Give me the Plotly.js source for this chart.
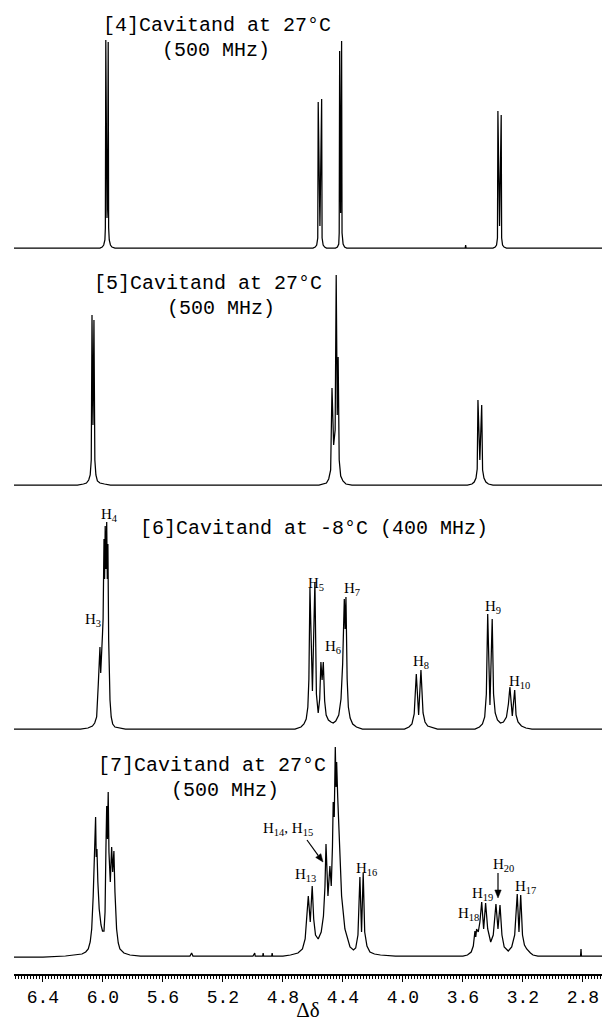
<!DOCTYPE html>
<html>
<head>
<meta charset="utf-8">
<script src="https://cdn.plot.ly/plotly-3.0.1.min.js"></script>
<style>
html,body{margin:0;padding:0;background:#ffffff;}
#chart{width:602px;height:1022px;}
</style>
</head>
<body>
<div id="chart"></div>
<script>
// ---------------- DATA (chemical shift δ in ppm, intensity in arbitrary units) ----------------
// [4] Cavitand, 27 °C, 500 MHz
const spectrum4 = [
  [6.593,0],[6.02,0],[6.005,1],[5.995,3],[5.987,8],[5.984,20],[5.981,208],[5.977,45],[5.973,30],[5.969,45],[5.965,206],[5.962,20],[5.958,8],[5.950,3],[5.940,1],[5.92,0],
  [4.60,0],[4.585,1],[4.575,3],[4.568,10],[4.565,146],[4.5535,22],[4.542,149],[4.539,10],[4.532,3],[4.522,1],[4.51,0],
  [4.45,0],[4.437,1],[4.428,4],[4.425,15],[4.422,197],[4.4155,35],[4.409,207],[4.406,15],[4.399,4],[4.389,1],[4.375,0],
  [3.60,0],[3.585,0],[3.582,3],[3.579,0],[3.40,0],[3.385,1],[3.376,3],[3.370,10],[3.367,137],[3.356,22],[3.345,133],[3.342,10],[3.336,3],[3.326,1],[3.31,0],[2.673,0]
];
// [5] Cavitand, 27 °C, 500 MHz
const spectrum5 = [
  [6.593,0],[6.17,0],[6.13,1],[6.11,2],[6.095,5],[6.085,10],[6.078,25],[6.073,170],[6.0665,60],[6.060,165],[6.054,25],[6.047,10],[6.037,4],[6.02,2],[5.99,1],[5.95,0],
  [4.56,0],[4.53,1],[4.51,2],[4.495,6],[4.482,15],[4.473,97],[4.462,40],[4.452,55],[4.445,210],[4.438,70],[4.432,128],[4.425,25],[4.415,9],[4.40,4],[4.38,1],[4.34,0],
  [3.57,0],[3.54,1],[3.525,3],[3.513,7],[3.505,16],[3.500,85],[3.4875,25],[3.475,80],[3.469,15],[3.460,7],[3.447,3],[3.43,1],[3.40,0],[2.673,0]
];
// [6] Cavitand, -8 °C, 400 MHz
const spectrum6 = [
  [6.593,0],[6.15,0],[6.10,1],[6.07,3],[6.055,6],[6.042,12],[6.031,45],[6.024,70],[6.020,82],[6.015,56],[6.009,86],[6.003,95],[5.999,110],[5.993,190],[5.989,150],[5.985,203],[5.980,160],[5.975,207],[5.971,150],[5.967,185],[5.962,90],[5.957,45],[5.953,29],[5.945,12],[5.935,5],[5.92,2],[5.89,1],[5.85,0],
  [4.72,0],[4.68,2],[4.66,5],[4.645,10],[4.634,22],[4.627,50],[4.620,141],[4.6035,38],[4.587,147],[4.577,35],[4.565,16],[4.555,30],[4.547,67],[4.539,49],[4.531,67],[4.522,28],[4.512,14],[4.497,9],[4.48,7],[4.465,6],[4.448,8],[4.428,14],[4.413,30],[4.402,65],[4.391,130],[4.3855,100],[4.380,132],[4.372,50],[4.364,22],[4.352,11],[4.335,5],[4.31,2],[4.27,0],
  [3.99,0],[3.96,2],[3.94,5],[3.925,15],[3.911,55],[3.8955,14],[3.880,59],[3.866,16],[3.853,7],[3.835,3],[3.80,1],[3.77,0],
  [3.52,0],[3.49,2],[3.47,5],[3.455,12],[3.444,35],[3.435,115],[3.42,24],[3.405,110],[3.396,35],[3.385,16],[3.37,9],[3.35,6],[3.33,7],[3.31,12],[3.297,25],[3.287,42],[3.271,13],[3.255,39],[3.246,14],[3.233,7],[3.21,3],[3.18,1],[3.14,0],[2.673,0]
];
// [7] Cavitand, 27 °C, 500 MHz
const spectrum7 = [
  [6.593,0],[6.40,0],[6.25,1],[6.18,2],[6.14,3],[6.115,5],[6.098,8],[6.085,15],[6.075,28],[6.065,61],[6.055,110],[6.049,140],[6.045,100],[6.040,108],[6.034,75],[6.025,48],[6.013,32],[6.003,26],[5.993,26],[5.986,45],[5.980,110],[5.975,151],[5.970,118],[5.965,165],[5.960,105],[5.955,88],[5.951,75],[5.946,95],[5.942,110],[5.935,85],[5.927,106],[5.920,65],[5.909,28],[5.898,14],[5.887,8],[5.86,4],[5.82,2],[5.75,1],[5.60,1],[5.42,1],[5.409,4],[5.40,1],[5.20,1],[5.00,1],[4.988,4],[4.985,1],[4.935,1],[4.932,4],[4.929,1],[4.875,1],[4.872,4],[4.869,1],[4.80,1],
  [4.75,2],[4.70,4],[4.67,8],[4.652,18],[4.641,38],[4.631,61],[4.618,35],[4.605,71],[4.595,38],[4.583,22],[4.565,18],[4.545,25],[4.530,41],[4.520,70],[4.513,113],[4.500,61],[4.487,91],[4.478,71],[4.470,110],[4.465,155],[4.458,140],[4.451,210],[4.446,170],[4.442,195],[4.435,160],[4.425,128],[4.409,61],[4.387,28],[4.353,10],[4.330,7],[4.315,9],[4.300,22],[4.287,80],[4.276,25],[4.265,84],[4.255,25],[4.240,11],[4.22,5],[4.19,3],[4.15,2],[4.05,1],[3.80,1],[3.60,1],
  [3.57,2],[3.545,5],[3.531,11],[3.520,26],[3.5145,20],[3.509,28],[3.498,25],[3.487,35],[3.475,55],[3.462,28],[3.449,54],[3.435,28],[3.415,15],[3.398,22],[3.380,53],[3.3665,28],[3.353,52],[3.340,22],[3.325,10],[3.298,6],[3.275,10],[3.255,22],[3.238,63],[3.2265,25],[3.215,62],[3.203,22],[3.19,12],[3.175,8],[3.15,4],[3.133,2],[3.10,1],[2.90,1],[2.816,1],[2.813,8],[2.810,1],[2.673,1]
];

const labelledTicks = [6.4,6.0,5.6,5.2,4.8,4.4,4.0,3.6,3.2,2.8];
const labelledTickText = ['6.4','6.0','5.6','5.2','4.8','4.4','4.0','3.6','3.2','2.8'];
const xAxisTitle = 'Δδ';

const panelTitleTexts = [
  '[4]Cavitand at 27°C', '(500 MHz)',
  '[5]Cavitand at 27°C', '(500 MHz)',
  '[6]Cavitand at -8°C (400 MHz)',
  '[7]Cavitand at 27°C', '(500 MHz)'
];
const peakLabelTexts = [
  'H<sub>4</sub>','H<sub>3</sub>','H<sub>5</sub>','H<sub>6</sub>','H<sub>7</sub>','H<sub>8</sub>','H<sub>9</sub>','H<sub>10</sub>',
  'H<sub>13</sub>','H<sub>14</sub>, H<sub>15</sub>','H<sub>16</sub>','H<sub>18</sub>','H<sub>19</sub>','H<sub>20</sub>','H<sub>17</sub>'
];

// ---------------- LAYOUT / STYLE ----------------
const W = 602, H = 1022, ML = 14, MR = 0, MT = 0, MB = 48;
const plotH = H - MT - MB;
const px2x = p => (p - ML) / (W - ML - MR);
const py2y = p => (plotH - (p - MT)) / plotH;

const monoFont = 'Liberation Mono, Courier New, monospace';
const serifFont = 'Liberation Serif, Times New Roman, serif';

const spectra = [spectrum4, spectrum5, spectrum6, spectrum7];
const baselinesPx = [248, 485, 729, 957];
const yLow = -8, yHigh = 222;
const axisIds = ['y4', 'y3', 'y2', 'y'];   // top panel uses y4 ... bottom uses y
const xRange = [6.593, 2.673];

const traces = spectra.map((s, i) => ({
  type: 'scatter', mode: 'lines',
  x: s.map(p => p[0]), y: s.map(p => p[1]),
  xaxis: 'x', yaxis: axisIds[i],
  line: {color: '#000000', width: 1.25},
  hoverinfo: 'skip', showlegend: false
}));

const layout = {
  width: W, height: H,
  margin: {l: ML, r: MR, t: MT, b: MB, pad: 0},
  paper_bgcolor: '#ffffff', plot_bgcolor: '#ffffff',
  showlegend: false,
  xaxis: {
    range: xRange, domain: [0, 1],
    anchor: 'free', position: 0,
    showline: true, linecolor: '#000000', linewidth: 1.5,
    showgrid: false, zeroline: false,
    tickmode: 'array', tickvals: labelledTicks, ticktext: labelledTickText,
    ticks: 'outside', ticklen: 6, tickwidth: 1, tickcolor: '#000000',
    tickfont: {family: monoFont, size: 18, color: '#000000'},
    minor: {tickmode: 'linear', tick0: 0, dtick: 0.02, ticks: 'outside', ticklen: 3, tickwidth: 1, tickcolor: '#000000', showgrid: false},
    title: {text: xAxisTitle, font: {family: serifFont, size: 21, color: '#000000'}, standoff: 2},
    automargin: false, fixedrange: true
  },
  // unlabeled intermediate major ticks every 0.2
  xaxis2: {
    range: xRange, domain: [0, 1], overlaying: 'x', matches: 'x',
    anchor: 'free', position: 0, side: 'bottom',
    showline: false, showgrid: false, zeroline: false, showticklabels: false,
    tickmode: 'linear', tick0: 0, dtick: 0.2,
    ticks: 'outside', ticklen: 6, tickwidth: 1, tickcolor: '#000000',
    automargin: false, fixedrange: true
  },
  annotations: [],
  shapes: []
};

axisIds.forEach((id, i) => {
  const b = baselinesPx[i];
  const key = id === 'y' ? 'yaxis' : 'yaxis' + id.slice(1);
  layout[key] = {
    domain: [py2y(b - yLow), py2y(b - yHigh)],
    range: [yLow, yHigh],
    visible: false, showgrid: false, zeroline: false, fixedrange: true,
    anchor: 'x'
  };
});

// title text placement (pixel centres)
const titlePos = [[217, 25], [216, 50], [208, 283], [221, 308], [314, 529], [212, 765], [225, 790]];
panelTitleTexts.forEach((t, i) => {
  layout.annotations.push({
    xref: 'paper', yref: 'paper', x: px2x(titlePos[i][0]), y: py2y(titlePos[i][1]),
    xanchor: 'center', yanchor: 'middle', text: t, showarrow: false,
    font: {family: monoFont, size: 20, color: '#000000'}
  });
});

const labelPos = [[109, 515], [93, 620], [316, 584], [333, 647], [352, 589], [421, 662], [493, 607], [519, 682],
                  [305, 875], [288, 829], [367, 869], [468, 914], [482, 894], [503, 865], [525, 887]];
peakLabelTexts.forEach((t, i) => {
  layout.annotations.push({
    xref: 'paper', yref: 'paper', x: px2x(labelPos[i][0]), y: py2y(labelPos[i][1]),
    xanchor: 'center', yanchor: 'middle', text: t, showarrow: false,
    font: {family: serifFont, size: 15, color: '#000000'}
  });
});

// arrows drawn as shapes: [tailX, tailY, headX, headY] in pixels
const arrows = [[307, 840, 323, 862], [498, 873, 498, 898]];
arrows.forEach(a => {
  const [x0, y0, x1, y1] = a;
  const dx = x1 - x0, dy = y1 - y0, len = Math.hypot(dx, dy);
  const ux = dx / len, uy = dy / len;
  const hl = 8, hw = 3.2;
  const bx = x1 - ux * hl, by = y1 - uy * hl;
  const c1 = [bx - uy * hw, by + ux * hw], c2 = [bx + uy * hw, by - ux * hw];
  layout.shapes.push({
    type: 'line', xref: 'paper', yref: 'paper',
    x0: px2x(x0), y0: py2y(y0), x1: px2x(bx), y1: py2y(by),
    line: {color: '#000000', width: 1.2}
  });
  layout.shapes.push({
    type: 'path', xref: 'paper', yref: 'paper',
    path: `M ${px2x(x1)} ${py2y(y1)} L ${px2x(c1[0])} ${py2y(c1[1])} L ${px2x(c2[0])} ${py2y(c2[1])} Z`,
    fillcolor: '#000000', line: {color: '#000000', width: 0.5}
  });
});

Plotly.newPlot('chart', traces, layout, {staticPlot: true, displayModeBar: false});
</script>
</body>
</html>
